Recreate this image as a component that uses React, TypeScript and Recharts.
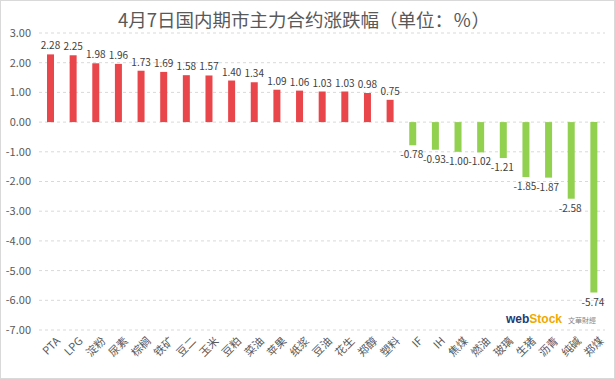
import React from 'react';
import { BarChart, Bar, XAxis, YAxis, CartesianGrid, Cell, LabelList } from 'recharts';

const categories = ['PTA', 'LPG', '淀粉', '尿素', '棕榈', '铁矿', '豆二', '玉米', '豆粕', '菜油', '苹果', '纸浆', '豆油', '花生', '郑醇', '塑料', 'IF', 'IH', '焦煤', '燃油', '玻璃', '生猪', '沥青', '纯碱', '郑煤'];
const changes = [2.28, 2.25, 1.98, 1.96, 1.73, 1.69, 1.58, 1.57, 1.40, 1.34, 1.09, 1.06, 1.03, 1.03, 0.98, 0.75, -0.78, -0.93, -1.00, -1.02, -1.21, -1.85, -1.87, -2.58, -5.74];
const yTicks = [3, 2, 1, 0, -1, -2, -3, -4, -5, -6, -7];
const title = '4月7日国内期市主力合约涨跌幅（单位：%）';

const data = categories.map((name, i) => ({ name, value: changes[i] }));
const splitAt = title.indexOf('（');

const FONT = '"Noto Sans CJK SC", "Noto Sans", sans-serif';

const XTick = (props: any) => {
  const { x, y, payload } = props;
  return (
    <g transform={`translate(${x + 5},${y - 2})`}>
      <text textAnchor="end" transform="rotate(-45)" fontSize={11} fill="#595959" fontFamily={FONT} dy={8}>
        {payload.value}
      </text>
    </g>
  );
};

const ValueLabel = (props: any) => {
  const { x, y, width, height, value } = props;
  const cx = x + width / 2;
  const top = Math.min(y, y + height);
  const bottom = Math.max(y, y + height);
  if (value >= 0) {
    return (
      <text x={cx} y={top - 5} textAnchor="middle" fontSize={10} fill="#404040" fontFamily={FONT}>
        {value.toFixed(2)}
      </text>
    );
  }
  return (
    <text x={cx - 1} y={bottom + 13} textAnchor="middle" fontSize={10} fill="#404040" fontFamily={FONT}>
      {value.toFixed(2)}
    </text>
  );
};

export default function App() {
  return (
    <div lang="zh-CN" style={{ position: 'absolute', left: 0, top: 0, width: 615, height: 379, background: '#fff', boxSizing: 'border-box', border: '1px solid #d9d9d9', fontFamily: FONT }}>
      <div style={{ position: 'absolute', left: 0, top: 5, width: 606, textAlign: 'center', fontSize: 18.5, color: '#595959', whiteSpace: 'nowrap', textSpacingTrim: 'space-all' } as any}>
        {title.slice(0, splitAt)}
        <span style={{ fontFeatureSettings: '"fwid" 1' }}>{title.slice(splitAt)}</span>
      </div>
      <div style={{ position: 'absolute', left: 0, top: 0 }}>
        <BarChart width={615} height={379} data={data} margin={{ top: 32, right: 11, left: 0, bottom: 0 }} barCategoryGap={0}>
          <CartesianGrid vertical={false} stroke="#d9d9d9" strokeDasharray="3 3" />
          <XAxis dataKey="name" axisLine={false} tickLine={false} interval={0} height={50} tick={<XTick />} />
          <YAxis domain={[-7, 3]} ticks={yTicks} interval={0} axisLine={false} tickLine={false} width={38}
            tick={{ fontSize: 11, fill: '#595959', fontFamily: FONT }} tickFormatter={(v: number) => v.toFixed(2)} />
          <Bar dataKey="value" barSize={7} isAnimationActive={false}>
            {data.map((d, i) => (
              <Cell key={i} fill={d.value >= 0 ? '#E8464B' : '#92D050'} />
            ))}
            <LabelList dataKey="value" content={<ValueLabel />} />
          </Bar>
        </BarChart>
      </div>
      <div style={{ position: 'absolute', left: 505, top: 308, fontFamily: 'Arial, "Liberation Sans", sans-serif', whiteSpace: 'nowrap' }}>
        <span style={{ fontSize: 12, fontWeight: 'bold', color: '#1f3b73' }}>web</span>
        <span style={{ fontSize: 12, fontWeight: 'bold', color: '#f0a800' }}>Stock</span>
        <span style={{ fontSize: 7, color: '#888', marginLeft: 6, fontFamily: FONT }}>文華財經</span>
      </div>
    </div>
  );
}
